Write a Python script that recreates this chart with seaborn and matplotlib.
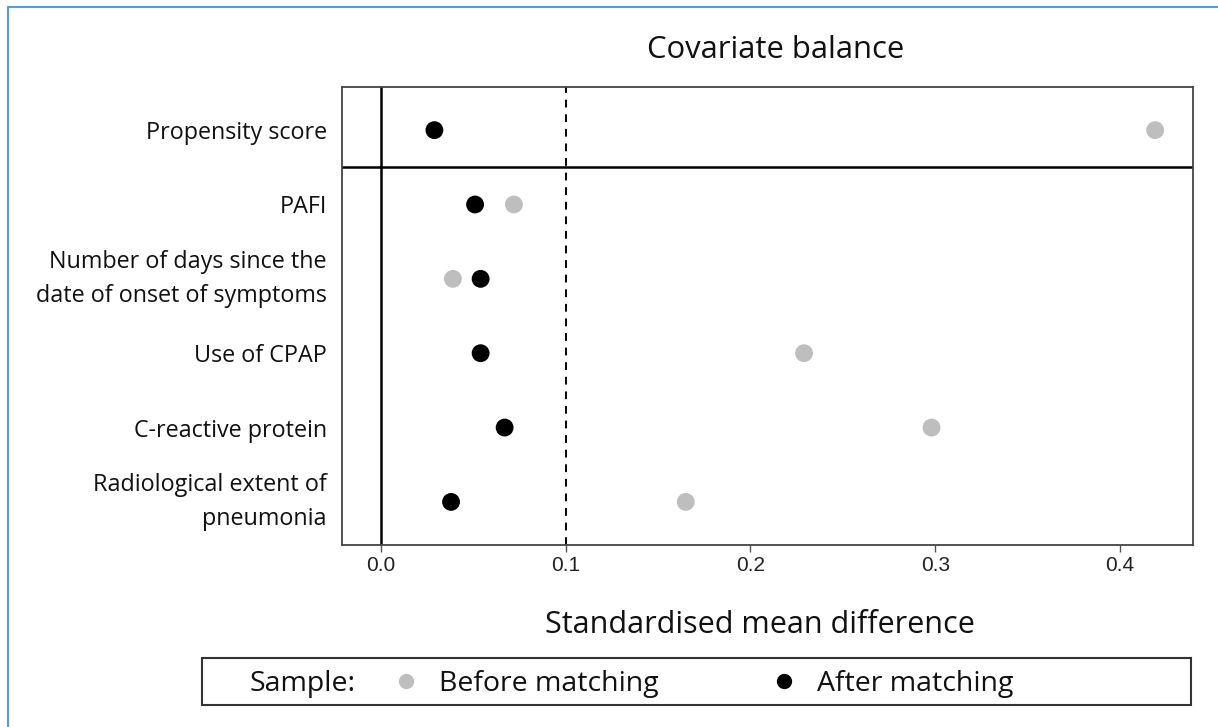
import matplotlib
matplotlib.use("Agg")
import matplotlib.pyplot as plt
import matplotlib.lines as mlines
import matplotlib.patches as mpatches
import seaborn as sns
import pandas as pd

# data
covariates = ["Propensity score", "PAFI",
              "Number of days since the\ndate of onset of symptoms",
              "Use of CPAP", "C-reactive protein",
              "Radiological extent of\npneumonia"]
before_matching = [0.419, 0.072, 0.039, 0.229, 0.298, 0.165]
after_matching = [0.029, 0.051, 0.054, 0.054, 0.067, 0.038]
sample_labels = ["Before matching", "After matching"]
sample_colors = ["#bebebe", "#000000"]

df = pd.DataFrame({
    "covariate": covariates * 2,
    "smd": before_matching + after_matching,
    "sample": [sample_labels[0]] * len(covariates) + [sample_labels[1]] * len(covariates),
})

sns.set_theme(style="white")
plt.rcParams["font.family"] = ["Open Sans", "DejaVu Sans"]

fig = plt.figure(figsize=(12.18, 7.27), dpi=100)
ax = fig.add_axes([0.2808, 0.2503, 0.6987, 0.6300])

sns.scatterplot(data=df, x="smd", y="covariate", hue="sample",
                palette=dict(zip(sample_labels, sample_colors)),
                s=165, edgecolor="none", legend=False, ax=ax, zorder=3)

ax.set_xlim(-0.021, 0.4395)
ax.set_ylim(5.58, -0.58)

ax.axvline(0, color="black", lw=1.8, zorder=1)
ax.axvline(0.1, color="black", lw=1.4, ls=(0, (4, 3.5)), zorder=1)
ax.axhline(0.5, color="black", lw=1.8, zorder=1)

for sp in ax.spines.values():
    sp.set_color("#444444")
    sp.set_linewidth(1.3)

ax.set_xticks([0.0, 0.1, 0.2, 0.3, 0.4])
ax.set_xticklabels(["0.0", "0.1", "0.2", "0.3", "0.4"],
                   family=["Liberation Sans", "DejaVu Sans"], fontsize=15)
ax.tick_params(axis="x", length=5, width=1, color="#555555", pad=3,
               labelcolor="#222222", bottom=True)
ax.tick_params(axis="y", length=0, pad=11, labelsize=16.8, labelcolor="#111111")
for lbl in ax.get_yticklabels():
    lbl.set_linespacing(1.55)
    if "\n" in lbl.get_text():
        lbl.set_va("center")

ax.set_ylabel("")
ax.set_xlabel("Standardised mean difference", fontsize=22, color="#111111")
ax.xaxis.set_label_coords(0.491, -0.142)

fig.text(0.637, 0.931, "Covariate balance", ha="center", va="center",
         fontsize=22.3, color="#111111")

# legend box at the bottom
box = mpatches.Rectangle((0.1658, 0.0303), 0.812, 0.0646, transform=fig.transFigure,
                         fill=False, edgecolor="#333333", lw=1.5)
fig.patches.append(box)
fig.text(0.205, 0.0595, "Sample:", ha="left", va="center", fontsize=20.5, color="#111111")
handles = [mlines.Line2D([], [], ls="none", marker="o", markersize=11,
                         markerfacecolor=c, markeredgecolor="none")
           for c in sample_colors]
fig.legend(handles, sample_labels, loc="center left", bbox_to_anchor=(0.308, 0.0595),
           ncol=2, frameon=False, fontsize=20.5, handletextpad=0.55,
           columnspacing=3.8, handlelength=1.2, borderpad=0, labelcolor="#111111")

# blue frame of the original figure panel
fig.add_artist(mlines.Line2D([8 / 1218, 8 / 1218], [0, 1 - 7 / 727],
                             transform=fig.transFigure, color="#5b9bd5", lw=1.5))
fig.add_artist(mlines.Line2D([8 / 1218, 1], [1 - 7 / 727, 1 - 7 / 727],
                             transform=fig.transFigure, color="#5b9bd5", lw=1.5))

fig.savefig("out.png", dpi=100)
